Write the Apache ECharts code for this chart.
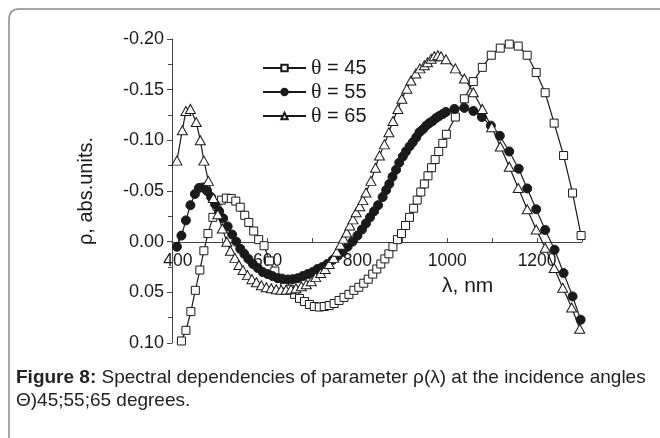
<!DOCTYPE html>
<html>
<head>
<meta charset="utf-8">
<script src="https://cdn.jsdelivr.net/npm/echarts@6/dist/echarts.min.js"></script>
<style>
html, body { margin: 0; padding: 0; background: #fff; }
#chart { width: 660px; height: 438px; }
</style>
</head>
<body>
<div id="chart"></div>
<script>
// wavelength (nm) and rho values
var lambda45 = [408, 418, 429, 439, 449, 458, 467, 478, 487, 497, 508, 519, 529, 539, 549, 558, 569, 580, 592, 604,
    616, 627, 638, 649, 660, 671, 682, 693, 704, 715, 726, 737, 748, 759, 770, 781, 792, 803, 814, 824,
    834, 843, 852, 861, 870, 879, 889, 898, 907, 916, 925, 933, 941, 949, 957, 965, 973, 981, 990, 998,
    1018, 1038, 1058, 1078, 1098, 1118, 1138, 1158, 1178, 1198, 1218, 1238, 1259, 1279, 1298];
var rho45 = [0.098, 0.0875, 0.069, 0.048, 0.028, 0.009, -0.008, -0.024, -0.035, -0.041, -0.043, -0.0425, -0.040, -0.034, -0.026, -0.019, -0.0105, -0.002, 0.004, 0.019,
    0.029, 0.036, 0.042, 0.047, 0.052, 0.056, 0.059, 0.062, 0.064, 0.0645, 0.064, 0.063, 0.061, 0.058, 0.055, 0.052, 0.048, 0.045, 0.041, 0.037,
    0.032, 0.027, 0.022, 0.017, 0.012, 0.005, -0.002, -0.008, -0.016, -0.024, -0.033, -0.041, -0.049, -0.057, -0.065, -0.073, -0.081, -0.089, -0.097, -0.106,
    -0.123, -0.141, -0.158, -0.172, -0.184, -0.191, -0.195, -0.193, -0.184, -0.167, -0.147, -0.117, -0.085, -0.048, -0.006];

var lambda55 = [398, 408, 418, 428, 438, 447, 456, 465, 474, 483, 492, 501, 511, 521, 530, 539, 548, 557, 567, 578,
    589, 600, 611, 622, 634, 645, 656, 667, 678, 689, 700, 711, 722, 733, 745, 756, 767, 778, 789, 800,
    810, 819, 828, 837, 846, 856, 864, 871, 878, 886, 893, 901, 908, 916, 923, 931, 938, 946, 953, 960,
    967, 975, 982, 990, 997, 1016, 1038, 1058, 1077, 1097, 1117, 1138, 1159, 1178, 1198, 1218, 1239, 1259, 1279, 1297];
var rho55 = [0.005, -0.006, -0.021, -0.036, -0.047, -0.053, -0.0535, -0.050, -0.044, -0.037, -0.030, -0.023, -0.015, -0.007, 0.000, 0.007, 0.012, 0.017, 0.022, 0.026,
    0.030, 0.032, 0.034, 0.036, 0.037, 0.0373, 0.037, 0.036, 0.034, 0.032, 0.030, 0.027, 0.025, 0.022, 0.018, 0.014, 0.010, 0.005, 0.000, -0.006,
    -0.012, -0.018, -0.024, -0.030, -0.036, -0.044, -0.051, -0.057, -0.064, -0.071, -0.078, -0.084, -0.089, -0.094, -0.098, -0.103, -0.108, -0.111, -0.1145, -0.117,
    -0.119, -0.122, -0.124, -0.126, -0.128, -0.131, -0.132, -0.129, -0.123, -0.1145, -0.1045, -0.089, -0.072, -0.0525, -0.032, -0.0115, 0.008, 0.031, 0.054, 0.077];

var lambda65 = [398, 410, 418, 428, 441, 450, 458, 468, 479, 489, 499, 509, 517, 527, 536, 545, 555, 565, 575, 586,
    597, 608, 619, 630, 641, 652, 663, 675, 686, 697, 707, 718, 728, 737, 747, 754, 762, 769, 776, 783,
    790, 797, 805, 812, 819, 830, 840, 849, 860, 870, 879, 890, 899, 910, 919, 930, 939, 949, 956, 964,
    971, 979, 986, 997, 1018, 1038, 1058, 1078, 1099, 1118, 1138, 1158, 1178, 1198, 1218, 1238, 1257, 1277, 1295];
var rho65 = [-0.080, -0.110, -0.129, -0.131, -0.118, -0.100, -0.080, -0.060, -0.043, -0.027, -0.013, 0.000, 0.009, 0.016, 0.023, 0.028, 0.033, 0.037, 0.040, 0.043,
    0.045, 0.046, 0.047, 0.0475, 0.0475, 0.047, 0.046, 0.044, 0.042, 0.039, 0.035, 0.031, 0.027, 0.022, 0.016, 0.010, 0.003, -0.003, -0.009, -0.016,
    -0.022, -0.029, -0.035, -0.041, -0.0485, -0.060, -0.073, -0.085, -0.096, -0.108, -0.119, -0.131, -0.141, -0.151, -0.159, -0.166, -0.171, -0.174, -0.177, -0.1805,
    -0.183, -0.184, -0.183, -0.180, -0.171, -0.161, -0.1475, -0.131, -0.113, -0.094, -0.074, -0.053, -0.032, -0.012, 0.006, 0.026, 0.0455, 0.065, 0.086];

var seriesNames = ['θ = 45', 'θ = 55', 'θ = 65'];
var xLabelValues = [400, 600, 800, 1000, 1200];
var xTickValues = [400, 500, 600, 700, 800, 900, 1000, 1100, 1200, 1300];

function pairs(xs, ys) {
    var out = [];
    for (var i = 0; i < xs.length; i++) out.push([xs[i], ys[i]]);
    return out;
}

var font = "'Liberation Sans', Arial, sans-serif";
var ink = '#1a1a1a';

var myChart = echarts.init(document.getElementById('chart'));

var option = {
    animation: false,
    backgroundColor: '#fff',
    textStyle: { fontFamily: font },
    grid: { left: 172, top: 39, width: 410, height: 304 },
    xAxis: {
        type: 'value',
        min: 387,
        max: 1300,
        // x axis sits on rho = 0 (grid bottom is 0.10, zero is 1/3 of the height above it)
        offset: -101,
        axisLine: { onZero: false, lineStyle: { color: '#444', width: 1 } },
        axisTick: { customValues: xTickValues, inside: true, length: 4, lineStyle: { color: '#444' } },
        axisLabel: {
            customValues: xLabelValues, margin: 10, fontSize: 17.5, color: ink, fontFamily: font,
            formatter: function(v) { return String(v); }
        },
        splitLine: { show: false }
    },
    yAxis: {
        type: 'value',
        inverse: true,
        min: -0.2,
        max: 0.1,
        interval: 0.05,
        name: 'ρ, abs.units.',
        nameLocation: 'middle',
        nameGap: 76,
        nameTextStyle: { fontSize: 20, color: ink, fontFamily: font },
        axisLine: { show: true, lineStyle: { color: '#444', width: 1 } },
        axisTick: { show: true, length: 5, lineStyle: { color: '#444' } },
        minorTick: { show: true, splitNumber: 2, length: 4, lineStyle: { color: '#444' } },
        axisLabel: {
            margin: 8, fontSize: 18, color: ink, fontFamily: font,
            formatter: function(v) { return Math.abs(v) < 1e-9 ? '0.00' : v.toFixed(2); }
        },
        splitLine: { show: false }
    },
    legend: {
        orient: 'vertical',
        left: 262,
        top: 57,
        padding: 0,
        itemWidth: 43,
        itemHeight: 8,
        itemGap: 2,
        data: seriesNames,
        formatter: function(n) { return '{t|θ} = ' + n.split('= ')[1]; },
        textStyle: {
            fontSize: 20, color: ink, fontFamily: font, lineHeight: 22,
            rich: { t: { fontFamily: "'Liberation Serif', serif", fontSize: 22, lineHeight: 22, color: ink } }
        }
    },
    graphic: [
        {
            type: 'rect', silent: true, z: -1,
            shape: { x: 9, y: 9, width: 720, height: 520, r: 9 },
            style: { fill: 'none', stroke: '#8a8a8a', lineWidth: 1.5 }
        },
        {
            type: 'text', left: 442, top: 276,
            style: { text: 'λ, nm', fontSize: 21, fill: ink, fontFamily: font }
        },
        {
            type: 'text', left: 16, top: 368,
            style: {
                text: '{b|Figure 8:} Spectral dependencies of parameter ρ(λ) at the incidence angles',
                fontSize: 19, fill: '#222', fontFamily: font,
                rich: { b: { fontWeight: 'bold', fontSize: 19, fill: '#222', fontFamily: font } }
            }
        },
        {
            type: 'text', left: 16, top: 391,
            style: { text: 'Θ)45;55;65 degrees.', fontSize: 19, fill: '#222', fontFamily: font }
        }
    ],
    series: [
        {
            name: seriesNames[0], type: 'line', clip: false,
            data: pairs(lambda45, rho45),
            symbol: 'rect', symbolSize: 8,
            lineStyle: { color: ink, width: 1.2 },
            itemStyle: { color: '#fff', borderColor: ink, borderWidth: 1 }
        },
        {
            name: seriesNames[1], type: 'line', clip: false,
            data: pairs(lambda55, rho55),
            symbol: 'circle', symbolSize: 9,
            lineStyle: { color: ink, width: 1.2 },
            itemStyle: { color: ink, borderColor: ink, borderWidth: 1 }
        },
        {
            name: seriesNames[2], type: 'line', clip: false,
            data: pairs(lambda65, rho65),
            symbol: 'triangle', symbolSize: [10, 9],
            lineStyle: { color: ink, width: 1.2 },
            itemStyle: { color: '#fff', borderColor: ink, borderWidth: 1 }
        }
    ]
};

myChart.setOption(option);
window.addEventListener('resize', function() {
    myChart.resize();
});
</script>
</body>
</html>
